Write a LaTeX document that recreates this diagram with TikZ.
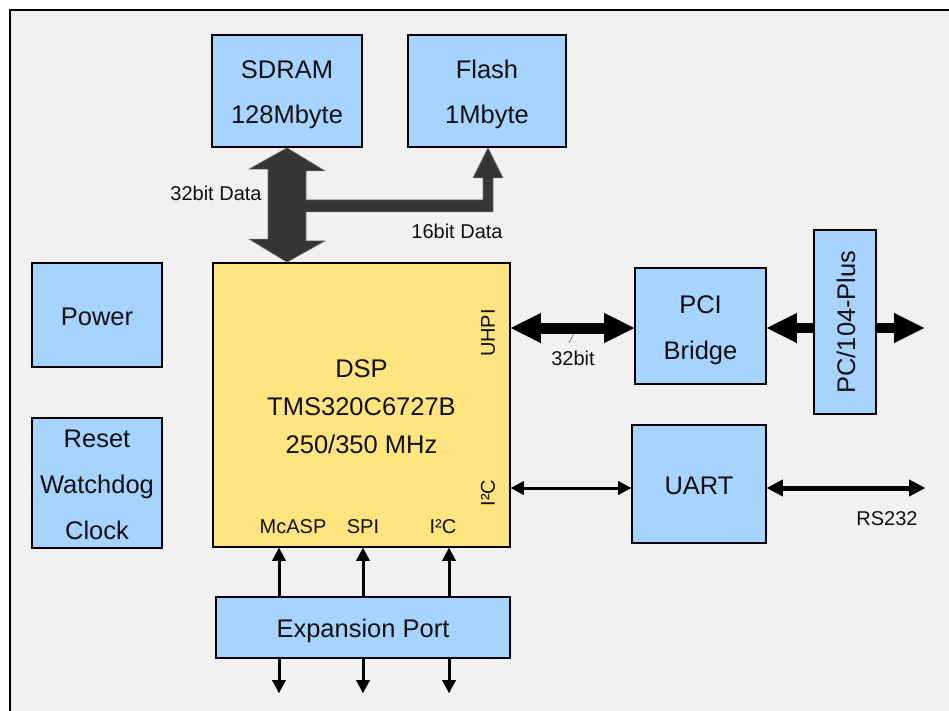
\documentclass[tikz,border=0pt]{standalone}
\usepackage{fontspec}
\setmainfont{Liberation Sans}
\usetikzlibrary{arrows.meta,calc}
\definecolor{bg}{HTML}{F1F1F1}
\definecolor{boxblue}{HTML}{A6D3FF}
\definecolor{dspyellow}{HTML}{FFE480}
\definecolor{busgray}{HTML}{353535}
\definecolor{txt}{HTML}{111111}
\newcommand\topst{\rule{0pt}{26.3pt}}
\newcommand\botst{\rule[-6pt]{0pt}{6pt}}
\begin{document}
\begin{tikzpicture}[x=1pt,y=-1pt,
  box/.style={draw=black, line width=1.8pt, fill=boxblue, inner sep=0pt, align=center, text=txt,
    font=\fontsize{25.5}{45}\selectfont},
  lbl/.style={inner sep=0pt, text=txt, font=\fontsize{20}{24}\selectfont},
  busarrow/.style={line width=11pt, draw=black,
    {Triangle[length=30pt,width=30pt,line width=0.1pt]}-{Triangle[length=30pt,width=30pt,line width=0.1pt]}},
  pcarrow/.style={line width=10pt, draw=black,
    {Triangle[length=30pt,width=30pt,line width=0.1pt]}-{Triangle[length=30pt,width=30pt,line width=0.1pt]}},
  sigarrow/.style={line width=3pt, draw=black,
    {Triangle[length=13pt,width=14pt,line width=0.1pt]}-{Triangle[length=13pt,width=14pt,line width=0.1pt]}},
  sigone/.style={line width=3pt, draw=black, -{Triangle[length=13pt,width=14pt,line width=0.1pt]}},
  rsarrow/.style={line width=5pt, draw=black,
    {Triangle[length=16pt,width=17pt,line width=0.1pt]}-{Triangle[length=16pt,width=17pt,line width=0.1pt]}},
]
\useasboundingbox (0,0) rectangle (949,711);
\clip (0,0) rectangle (949,711);
% frame
\fill[white] (0,0) rectangle (949,711);
\draw[fill=bg, line width=2.6pt] (10,10) rectangle (1000,760);

% boxes
\node[box, minimum width=150, minimum height=112] (sdram) at (287,91) {\topst SDRAM\\128Mbyte\botst};
\node[box, minimum width=158, minimum height=112] (flash) at (487,91) {\topst Flash\\1Mbyte\botst};
\node[box, fill=dspyellow, minimum width=297, minimum height=284,
  font=\fontsize{25.5}{38}\selectfont] (dsp) at (361.5,405) {\topst DSP\\TMS320C6727B\hspace{14pt}\\250/350 MHz\botst};
\node[box, minimum width=130, minimum height=104] (power) at (97,315) {\topst Power\botst};
\node[box, minimum width=130, minimum height=130, font=\fontsize{25.5}{46}\selectfont] (reset) at (97,483) {\topst Reset\\Watchdog\\Clock\botst};
\node[box, minimum width=131, minimum height=116, font=\fontsize{25.5}{46}\selectfont] (pci) at (700.5,326) {\topst PCI\\Bridge\botst};
\node[box, minimum width=134, minimum height=118] (uart) at (699,484) {\topst UART\botst};
\node[box, minimum width=294, minimum height=61] (exp) at (363,627.5) {\topst Expansion Port\botst};

% port labels in DSP
\node[lbl, rotate=90] (uhpi) at (488,333) {UHPI};
\node[lbl, rotate=90] (i2cr) at (488,493) {I²C};
\node[lbl] (mcasp) at (293,527) {McASP};
\node[lbl] (spi) at (363,527) {SPI};
\node[lbl] (i2cb) at (443,527) {I²C};

% memory bus (32bit SDRAM <-> DSP, 16bit branch to Flash)
\draw[fill=busgray, draw=busgray!70!white, line width=0.6pt, line join=miter]
  (sdram.south) -- ++(38,23) -- ++(-19,0) -- ++(0,29) -- ++(177,0) -- ++(0,-22)
  -- ++(-10,0) -- ++(15,-30) -- ++(15,30) -- ++(-10,0) -- ++(0,34) -- ++(-187,0)
  -- ++(0,29) -- ++(19,0) -- (sdram.south |- dsp.north) -- ++(-38,-23) -- ++(19,0) -- ++(0,-70)
  -- ++(-19,0) -- cycle;
\node[lbl] (l32) at (216,193) {32bit Data};
\node[lbl] (l16) at (457,231) {16bit Data};

% UHPI bus
\draw[line width=0.8pt, draw=gray] (569,343) -- (574,333);
\draw[busarrow] ($(pci.west -| dsp.east)+(0,2)$) -- ($(pci.west)+(0,2)$);
\node[lbl] (l32b) at (573,358) {32bit};

% PC/104-Plus bus
\coordinate (pcout) at (924,328);
\draw[pcarrow] ($(pci.east)+(0,2)$) -- (pcout);
\node[box, rotate=90, minimum width=184, minimum height=62] (pc104) at (845,322) {\topst PC/104-Plus\botst};

% I2C to UART
\draw[sigarrow] ($(uart.west -| dsp.east)+(0,4)$) -- ($(uart.west)+(0,4)$);
% RS232
\coordinate (rsout) at (925,488);
\draw[rsarrow] ($(uart.east)+(0,4)$) -- (rsout);
\node[lbl] (rs) at (887,519) {RS232};

% expansion port
\coordinate (e1) at (279,693);
\coordinate (e2) at (363,693);
\coordinate (e3) at (449,693);
\foreach \e in {e1,e2,e3}{
  \draw[sigone] (exp.north -| \e) -- (dsp.south -| \e);
  \draw[sigone] (exp.south -| \e) -- (\e);
}
\end{tikzpicture}
\end{document}
